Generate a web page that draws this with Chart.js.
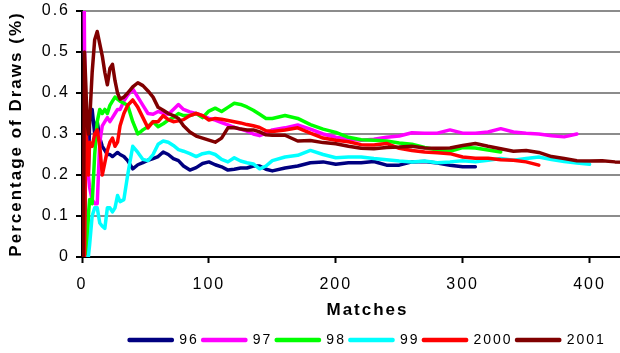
<!DOCTYPE html>
<html>
<head>
<meta charset="utf-8">
<script src="https://cdn.jsdelivr.net/npm/chart.js@4/dist/chart.umd.min.js"></script>
<style>
html,body{margin:0;padding:0;background:#fff;overflow:hidden;width:620px;height:353px;}
#wrap{position:relative;width:656px;height:353px;}
canvas{display:block;}
</style>
</head>
<body>
<div id="wrap"><canvas id="c" width="656" height="353"></canvas></div>
<script>
const matches = [1,2,3,4,5,6,8,10,12,14,16,18,20,22,24,26,28,30,33,36,40,44,48,52,56,60,64,68,72,76,80,85,90,95,100,105,110,115,120,125,130,135,140,145,150,160,170,180,190,200,210,220,230,240,250,260,270,280,290,300,310,320,330,340,350,360,370,380,390,400,410,420,430];

const seriesNames = ['96','97','98','99','2000','2001'];
const seriesColors = ['#000080','#FF00FF','#00FF00','#00FFFF','#FF0000','#800000'];

const s96 = [0,0,0.33,0.25,0.2,0.33,0.36,0.3,0.33,0.29,0.27,0.26,0.25,0.25,0.245,0.25,0.255,0.25,0.245,0.235,0.215,0.225,0.23,0.236,0.24,0.245,0.256,0.25,0.24,0.235,0.222,0.212,0.218,0.228,0.232,0.225,0.22,0.212,0.214,0.217,0.217,0.222,0.222,0.214,0.21,0.217,0.222,0.23,0.232,0.226,0.23,0.23,0.233,0.224,0.224,0.232,0.233,0.229,0.224,0.22,0.22];
const s97 = [1.0,0.5,0.33,0.25,0.2,0.17,0.14,0.13,0.13,0.28,0.32,0.33,0.34,0.33,0.34,0.35,0.36,0.36,0.38,0.395,0.41,0.39,0.37,0.35,0.348,0.355,0.35,0.348,0.36,0.372,0.36,0.354,0.35,0.345,0.338,0.334,0.328,0.322,0.316,0.312,0.307,0.3,0.296,0.302,0.31,0.315,0.322,0.312,0.3,0.292,0.288,0.285,0.287,0.292,0.295,0.303,0.302,0.302,0.31,0.302,0.302,0.305,0.313,0.305,0.302,0.3,0.296,0.293,0.3];
const s98 = [0,0,0,0,0.1,0.14,0.13,0.25,0.33,0.36,0.35,0.36,0.35,0.37,0.38,0.39,0.385,0.38,0.375,0.37,0.33,0.3,0.31,0.318,0.33,0.318,0.325,0.334,0.34,0.35,0.345,0.345,0.35,0.34,0.356,0.363,0.355,0.365,0.375,0.372,0.366,0.358,0.348,0.338,0.338,0.345,0.338,0.323,0.312,0.304,0.292,0.286,0.285,0.283,0.278,0.275,0.267,0.261,0.258,0.267,0.266,0.261,0.256];
const s99 = [0,0,0,0,0,0.03,0.1,0.12,0.12,0.083,0.075,0.07,0.12,0.12,0.11,0.12,0.15,0.135,0.14,0.2,0.27,0.255,0.238,0.235,0.25,0.275,0.283,0.28,0.272,0.262,0.258,0.252,0.245,0.252,0.255,0.25,0.238,0.232,0.242,0.234,0.23,0.227,0.215,0.222,0.235,0.244,0.248,0.26,0.25,0.242,0.244,0.244,0.24,0.237,0.234,0.232,0.234,0.23,0.232,0.235,0.232,0.236,0.24,0.236,0.24,0.244,0.238,0.233,0.229,0.226];
const s2000 = [0,0,0.33,0.25,0.2,0.28,0.27,0.3,0.31,0.27,0.2,0.23,0.26,0.28,0.29,0.27,0.28,0.32,0.35,0.37,0.383,0.365,0.34,0.315,0.33,0.33,0.345,0.335,0.33,0.332,0.335,0.345,0.35,0.345,0.334,0.338,0.336,0.333,0.33,0.327,0.323,0.32,0.316,0.308,0.306,0.31,0.315,0.302,0.29,0.285,0.281,0.274,0.273,0.277,0.265,0.26,0.256,0.254,0.252,0.244,0.241,0.241,0.237,0.236,0.232,0.224];
const s2001 = [0,0.5,0.42,0.33,0.3,0.33,0.45,0.53,0.55,0.52,0.49,0.45,0.42,0.46,0.47,0.43,0.4,0.385,0.39,0.4,0.415,0.425,0.418,0.405,0.39,0.365,0.358,0.35,0.345,0.338,0.32,0.305,0.295,0.29,0.285,0.28,0.29,0.315,0.316,0.312,0.31,0.31,0.305,0.298,0.297,0.297,0.283,0.284,0.279,0.276,0.27,0.265,0.264,0.267,0.268,0.27,0.266,0.265,0.266,0.272,0.277,0.27,0.264,0.258,0.26,0.255,0.245,0.24,0.235,0.234,0.235,0.232,0.231];

const allSeries = [s96, s97, s98, s99, s2000, s2001];

const xTickValues = [0,100,200,300,400];
const yTickValues = [0,0.1,0.2,0.3,0.4,0.5,0.6];

const FONT = "'Liberation Sans', Arial, sans-serif";

const spacingPlugin = {
  id: 'spacing',
  beforeInit(chart){ chart.ctx.letterSpacing = '2px'; },
  beforeLayout(chart){ chart.ctx.letterSpacing = '2px'; },
  beforeDraw(chart){ chart.ctx.letterSpacing = '2px'; }
};

const datasets = allSeries.map((vals, i) => ({
  label: seriesNames[i],
  data: vals.map((v, j) => ({x: matches[j], y: v})),
  borderColor: seriesColors[i],
  backgroundColor: seriesColors[i],
  borderWidth: 3.5,
  borderCapStyle: 'round',
  borderJoinStyle: 'round',
  pointRadius: 0,
  tension: 0,
  fill: false,
  order: allSeries.length - 1 - i
}));

new Chart(document.getElementById('c'), {
  type: 'line',
  data: { datasets },
  plugins: [spacingPlugin],
  options: {
    responsive: false,
    animation: false,
    layout: { padding: { top: 11, right: 3, left: 0, bottom: 0 } },
    plugins: {
      legend: {
        position: 'bottom',
        fullSize: false,
        maxHeight: 24,
        labels: {
          boxWidth: 43,
          boxHeight: 1,
          padding: 4,
          color: '#000',
          font: { family: FONT, size: 14 },
          sort: (a, b) => a.datasetIndex - b.datasetIndex
        }
      },
      tooltip: { enabled: false }
    },
    scales: {
      x: {
        type: 'linear',
        min: 0,
        max: 450,
        afterBuildTicks(scale){ scale.ticks = xTickValues.map(v => ({value: v})); },
        afterFit(scale){ scale.height = 72; },
        ticks: {
          includeBounds: false,
          color: '#000',
          padding: 12,
          maxRotation: 0,
          font: { family: FONT, size: 16 }
        },
        grid: {
          drawOnChartArea: false,
          drawTicks: true,
          tickLength: 6,
          tickColor: '#000',
          tickWidth: 2
        },
        border: { color: '#000', width: 2 },
        title: {
          display: true,
          text: 'Matches',
          color: '#000',
          padding: { top: 7, bottom: 8 },
          font: { family: FONT, size: 17, weight: 'bold' }
        }
      },
      y: {
        min: 0,
        max: 0.6,
        afterBuildTicks(scale){ scale.ticks = yTickValues.map(v => ({value: v})); },
        afterFit(scale){ scale.width = 82; scale.paddingTop = 0; scale.paddingBottom = 0; },
        ticks: {
          color: '#000',
          padding: 6,
          font: { family: FONT, size: 16 },
          callback: (v) => String(Math.round(v * 10) / 10)
        },
        grid: {
          color: '#8c8c8c',
          lineWidth: 2,
          drawTicks: true,
          tickLength: 6,
          tickColor: '#000',
          tickWidth: 2
        },
        border: { color: '#000', width: 2 },
        title: {
          display: true,
          text: 'Percentage of Draws (%)',
          color: '#000',
          padding: { top: 6, bottom: 0 },
          font: { family: FONT, size: 17, weight: 'bold' }
        }
      }
    }
  }
});
</script>
</body>
</html>
